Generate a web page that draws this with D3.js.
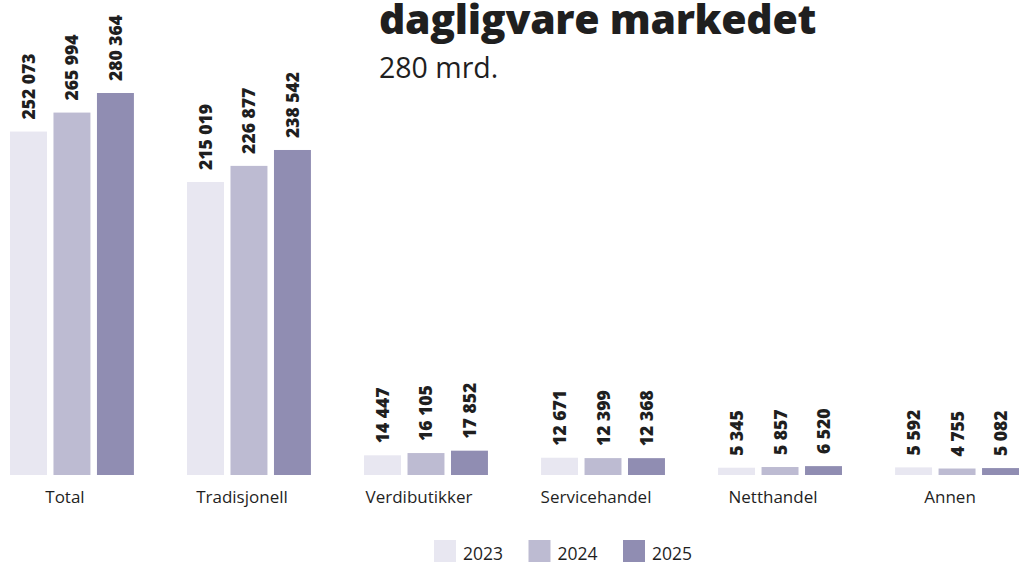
<!DOCTYPE html>
<html>
<head>
<meta charset="utf-8">
<script src="https://cdn.jsdelivr.net/npm/d3@7"></script>
<style>
  html, body { margin: 0; padding: 0; background: #ffffff; }
  svg { display: block; }
</style>
</head>
<body>
<svg id="chart" width="1020" height="573"></svg>
<script>
const categories = ["Total", "Tradisjonell", "Verdibutikker", "Servicehandel", "Netthandel", "Annen"];
const years = ["2023", "2024", "2025"];
const values2023 = [252073, 215019, 14447, 12671, 5345, 5592];
const values2024 = [265994, 226877, 16105, 12399, 5857, 4755];
const values2025 = [280364, 238542, 17852, 12368, 6520, 5082];
const seriesColors = ["#e8e7f1", "#bdbbd2", "#908db2"];
const titleText = "dagligvare markedet";
const subtitleText = "280 mrd.";

const series = [values2023, values2024, values2025];
const rows = categories.map((c, i) => ({ cat: c, vals: years.map((y, j) => ({ year: y, value: series[j][i] })) }));

const svg = d3.select("#chart");
const baseline = 475;

const x0 = d3.scaleBand().domain(categories).range([10, 1019]).paddingInner(0.3).paddingOuter(0);
const x1 = d3.scaleBand().domain(years).range([0, x0.bandwidth()]).paddingInner(0.15).paddingOuter(0);
const y = d3.scaleLinear().domain([0, d3.max(values2025)]).range([baseline, 93]);
const color = d3.scaleOrdinal().domain(years).range(seriesColors);

const fmt = d3.formatLocale({ decimal: ",", thousands: " ", grouping: [3], currency: ["", ""] }).format(",d");

const textColor = "#1f1f1f";
const font = "'Open Sans', 'DejaVu Sans', sans-serif";

// Title
svg.append("text").attr("x", 379).attr("y", 34)
  .attr("font-family", font).attr("font-weight", 800).attr("font-size", 41)
  .attr("fill", textColor).attr("letter-spacing", -0.3).text(titleText);
svg.append("text").attr("x", 379).attr("y", 78)
  .attr("font-family", font).attr("font-weight", 400).attr("font-size", 28.5)
  .attr("fill", textColor).text(subtitleText);

const groups = svg.append("g").selectAll("g").data(rows).join("g")
  .attr("transform", d => `translate(${x0(d.cat)},0)`);

groups.selectAll("rect").data(d => d.vals).join("rect")
  .attr("x", d => x1(d.year))
  .attr("width", x1.bandwidth())
  .attr("y", d => y(d.value))
  .attr("height", d => baseline - y(d.value))
  .attr("fill", d => color(d.year));

groups.selectAll("text.val").data(d => d.vals).join("text")
  .attr("class", "val")
  .attr("transform", d => `translate(${x1(d.year) + x1.bandwidth() / 2 + 6.5},${y(d.value) - 12}) rotate(-90)`)
  .attr("font-family", font).attr("font-weight", 800).attr("font-size", 17.5)
  .attr("fill", textColor)
  .text(d => fmt(d.value));

// Category axis labels
const xAxis = d3.axisBottom(x0).tickSize(0).tickPadding(0);
const axG = svg.append("g").attr("transform", `translate(-7,${baseline + 16})`).call(xAxis);
axG.select(".domain").remove();
axG.selectAll("text")
  .attr("font-family", font).attr("font-size", 17).attr("fill", textColor).attr("dy", "0.71em");

// Legend
const legend = svg.append("g").attr("transform", "translate(434,540)");
const li = legend.selectAll("g").data(years).join("g")
  .attr("transform", (d, i) => `translate(${i * 94.5},0)`);
li.append("rect").attr("width", 22).attr("height", 22).attr("fill", d => color(d));
li.append("text").attr("x", 29).attr("y", 20)
  .attr("font-family", font).attr("font-size", 17.5).attr("fill", textColor).text(d => d);
</script>
</body>
</html>
